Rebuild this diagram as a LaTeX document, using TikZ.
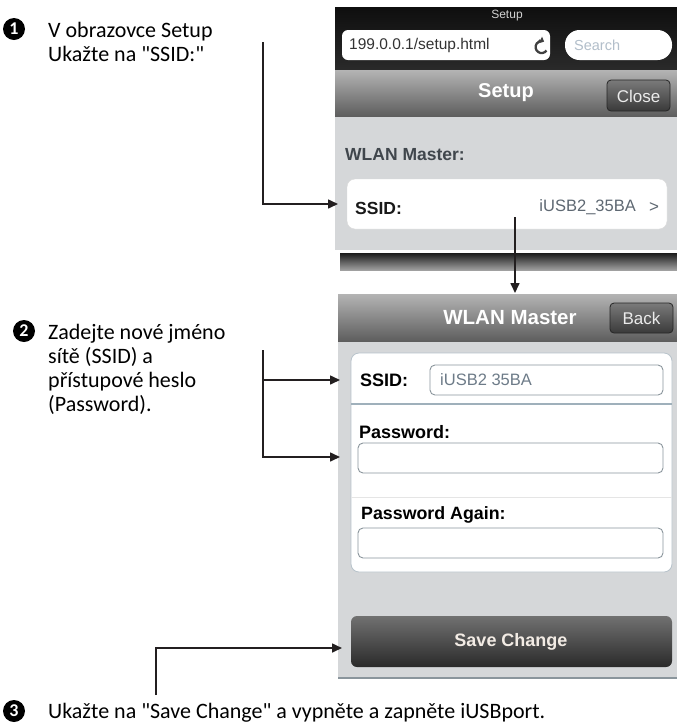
\documentclass[tikz,border=0pt]{standalone}
\usepackage{fontspec}
\setmainfont{Carlito}[Ligatures=TeXOff]
\newfontfamily\uifont{Liberation Sans}[Ligatures=TeXOff]
\usetikzlibrary{arrows.meta}
\definecolor{arrowcol}{HTML}{231F20}
\definecolor{bodygray}{HTML}{D5D7D9}
\definecolor{hdrtop}{HTML}{B4B4B4}
\definecolor{hdrbot}{HTML}{5C5C5C}
\definecolor{bartop}{HTML}{0E0E0E}
\definecolor{barbot}{HTML}{2A2A2A}
\definecolor{btntop}{HTML}{7A7A7A}
\definecolor{btnbot}{HTML}{3A3A3A}
\definecolor{savetop}{HTML}{717171}
\definecolor{savebot}{HTML}{2A2A2A}
\definecolor{shadtop}{HTML}{1C1C1C}
\definecolor{shadbot}{HTML}{A0A0A0}
\definecolor{labelgray}{HTML}{40464C}
\definecolor{valgray}{HTML}{5E6872}
\definecolor{valblue}{HTML}{6D7B88}
\definecolor{searchgray}{HTML}{B2BECA}
\definecolor{fieldline}{HTML}{8A959C}
\definecolor{panelline}{HTML}{B8C3CB}
\definecolor{sepblue}{HTML}{9FB0BB}
\definecolor{savetext}{HTML}{F2EBE4}
\tikzset{
  caption/.style={anchor=base west, inner sep=0pt, font=\fontsize{22}{24}\selectfont},
  bulletdot/.style={circle, fill=black, text=white, inner sep=0pt, minimum size=22pt,
    font=\bfseries\fontsize{18}{18}\selectfont},
  arr/.style={line width=1.6pt, draw=arrowcol, -{Triangle[length=10pt,width=9pt]}},
  ui/.style={inner sep=0pt, font=\uifont\fontsize{#1}{#1}\selectfont},
  uib/.style={inner sep=0pt, font=\uifont\bfseries\fontsize{#1}{#1}\selectfont},
}
\begin{document}
\begin{tikzpicture}[x=1pt,y=-1pt]
\useasboundingbox (0,0) rectangle (677,724);

% ---------------- screenshot 1 ----------------
\shade[top color=bartop, bottom color=barbot] (335,7) rectangle (677,70);
\node[ui=12, text=gray!35] (s1title) at (507,16) {Setup};
\path[fill=white, rounded corners=6pt] (342,30) rectangle (550,60);
\node[ui=15.5, anchor=west, text=black!80] (s1url) at (349,45.5) {199.0.0.1/setup.html};
\draw[line width=2.3pt, black!75, -{Triangle[length=4pt,width=7pt]}] (546.5,50.5) arc[start angle=-35, end angle=-295, radius=6pt];
\path[fill=white, rounded corners=14.5pt] (565,30) rectangle (672,60);
\node[ui=14.5, anchor=west, text=searchgray] (s1search) at (574,45.5) {Search};
\shade[top color=hdrtop, bottom color=hdrbot] (335,70) rectangle (677,117);
\node[uib=20, text=white] (s1head) at (506,93) {Setup};
\shade[draw=black!85, line width=0.8pt, rounded corners=4pt, top color=btntop, bottom color=btnbot] (607,80) rectangle (670,111);
\node[ui=17, text=black!8] (s1close) at (638.5,96) {Close};
\fill[bodygray] (335,117) rectangle (677,250);
\node[uib=17.5, anchor=west, text=labelgray] (s1wlan) at (345,155) {WLAN Master:};
\path[fill=white, draw=black!15, rounded corners=8pt] (347,179) rectangle (667,229);
\node[uib=17.5, anchor=west, text=black!90] (s1ssid) at (355,208) {SSID:};
\node[ui=16.5, anchor=east, text=valgray] (s1val) at (636,207) {iUSB2\_35BA};
\node[ui=17, text=valgray] (s1gt) at (654,208) {>};
\shade[top color=shadtop, bottom color=shadbot] (340,253) rectangle (677,270);

% ---------------- screenshot 2 ----------------
\shade[top color=hdrtop, bottom color=hdrbot] (338,294) rectangle (677,342);
\node[uib=20.5, text=white] (s2head) at (510,318) {WLAN Master};
\shade[draw=black!85, line width=0.8pt, rounded corners=4pt, top color=btntop, bottom color=btnbot] (610,303) rectangle (673,333);
\node[ui=17, text=black!8] (s2back) at (641.5,318.5) {Back};
\fill[bodygray] (338,342) rectangle (677,678);
\draw[fieldline, line width=1.2pt] (338,678) -- (677,678);
\path[fill=white, draw=panelline, line width=0.8pt, rounded corners=8pt] (351,353) rectangle (672,572);
\draw[sepblue, line width=1.2pt] (351,404) -- (672,404);
\draw[black!10, line width=0.8pt] (351,497) -- (672,497);
\node[uib=18, anchor=west, text=black] (s2ssid) at (360,380) {SSID:};
\path[fill=white, draw=fieldline, line width=0.9pt, rounded corners=5pt] (430,365) rectangle (663,395);
\node[ui=16.5, anchor=west, text=valblue] (s2val) at (440,380) {iUSB2 35BA};
\node[uib=18, anchor=west, text=black] (s2pw) at (359,432) {Password:};
\path[fill=white, draw=fieldline, line width=0.9pt, rounded corners=5pt] (358,443) rectangle (663,473);
\node[uib=17.8, anchor=west, text=black] (s2pwa) at (361,515) {Password Again:};
\path[fill=white, draw=fieldline, line width=0.9pt, rounded corners=5pt] (358,528) rectangle (663,558);
\shade[rounded corners=6pt, top color=savetop, bottom color=savebot] (351,616) rectangle (672,667);
\node[uib=18, text=savetext] (s2save) at (511,642) {Save Change};

% ---------------- captions ----------------
\node[bulletdot] (b1) at (14,29) {1};
\node[caption] (t1a) at (48,37) {V obrazovce Setup};
\node[caption] (t1b) at (48,61) {Ukažte na "SSID:"};

\node[bulletdot] (b2) at (24,331) {2};
\node[caption] (t2a) at (48,339) {Zadejte nové jméno};
\node[caption] (t2b) at (48,363) {sítě (SSID) a};
\node[caption] (t2c) at (48,387) {přístupové heslo};
\node[caption] (t2d) at (48,411) {(Password).};

\node[bulletdot] (b3) at (14,711) {3};
\node[caption] (t3) at (48,718) {Ukažte na "Save Change" a vypněte a zapněte iUSBport.};

% ---------------- connectors ----------------
\coordinate (c1top) at (263,42);
\coordinate (c1tip) at (338,204);
\draw[arr] (c1top) |- (c1tip);

\coordinate (c4a) at (515,217);
\coordinate (c4b) at (515,293);
\draw[arr] (c4a) -- (c4b);

\coordinate (c2top) at (263,350);
\coordinate (c2a) at (340,380);
\coordinate (c2b) at (340,457);
\draw[arr] (c2top) |- (c2b);
\draw[arr] (c2top |- c2a) -- (c2a);

\coordinate (c3bot) at (156,695);
\coordinate (c3tip) at (342,648);
\draw[arr] (c3bot) |- (c3tip);
\end{tikzpicture}
\end{document}
